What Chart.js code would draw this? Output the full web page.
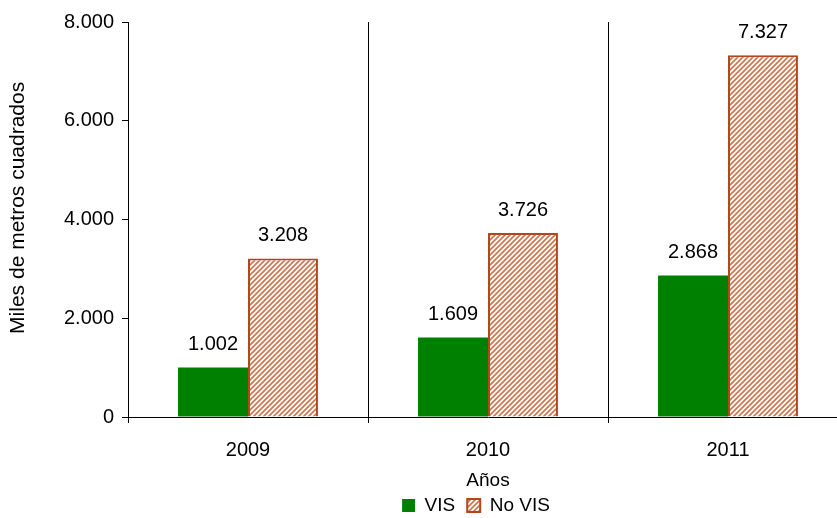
<!DOCTYPE html>
<html>
<head>
<meta charset="utf-8">
<script src="https://cdn.jsdelivr.net/npm/chart.js@4"></script>
<style>
  html, body { margin: 0; padding: 0; background: #fff; overflow: hidden; }
  #wrap { width: 850px; height: 518px; }
</style>
</head>
<body>
<div id="wrap"><canvas id="myChart" width="850" height="518"></canvas></div>
<script>
const years = ['2009', '2010', '2011'];
const visValues = [1002, 1609, 2868];
const noVisValues = [3208, 3726, 7327];
const yTicks = [0, 2000, 4000, 6000, 8000];

const ctx = document.getElementById('myChart').getContext('2d');
const FONT = "'Liberation Sans', Arial, sans-serif";

// trama diagonal para "No VIS"
function makeHatch() {
    const c = document.createElement('canvas');
    c.width = 5; c.height = 5;
    const g = c.getContext('2d');
    g.fillStyle = '#fff';
    g.fillRect(0, 0, 5, 5);
    g.strokeStyle = '#CF7650';
    g.lineWidth = 1.7;
    g.beginPath();
    g.moveTo(-1, 6); g.lineTo(6, -1);
    g.moveTo(-3.5, 3.5); g.lineTo(3.5, -3.5);
    g.moveTo(1.5, 8.5); g.lineTo(8.5, 1.5);
    g.stroke();
    return ctx.createPattern(c, 'repeat');
}
const hatch = makeHatch();

function fmt(v) {
    return v.toString().replace(/\B(?=(\d{3})+(?!\d))/g, '.');
}

const valueLabels = {
    id: 'valueLabels',
    afterDatasetsDraw(chart) {
        const c = chart.ctx;
        c.save();
        c.font = '20px ' + FONT;
        c.fillStyle = '#000';
        c.textAlign = 'center';
        c.textBaseline = 'middle';
        chart.data.datasets.forEach((ds, i) => {
            chart.getDatasetMeta(i).data.forEach((bar, j) => {
                c.fillText(fmt(ds.data[j]), bar.x, bar.y - 23);
            });
        });
        c.restore();
    }
};

// mover la leyenda (derecha y abajo)
const legendShift = {
    id: 'legendShift',
    afterLayout(chart) {
        const lg = chart.legend;
        lg.left += 52; lg.right += 52;
        lg.top += 7; lg.bottom += 7;
    }
};

const myChart = new Chart(ctx, {
    type: 'bar',
    data: {
        labels: years,
        datasets: [{
            label: 'VIS',
            data: visValues,
            backgroundColor: '#008000',
            borderColor: '#006400',
            borderWidth: 0,
            categoryPercentage: 0.583,
            barPercentage: 1.0
        }, {
            label: 'No VIS',
            data: noVisValues,
            backgroundColor: hatch,
            borderColor: '#B5461C',
            borderWidth: 2,
            categoryPercentage: 0.583,
            barPercentage: 1.0
        }]
    },
    options: {
        responsive: false,
        animation: false,
        layout: { padding: { top: 22, right: 2, left: 0, bottom: 0 } },
        scales: {
            x: {
                grid: {
                    display: true,
                    color: '#000',
                    lineWidth: 1,
                    drawTicks: true,
                    tickLength: 6,
                    offset: true
                },
                border: { display: true, color: '#000', width: 1 },
                ticks: { color: '#000', font: { family: FONT, size: 20 }, padding: 15 },
                title: {
                    display: true,
                    text: 'Años',
                    color: '#000',
                    font: { family: FONT, size: 19 },
                    padding: { top: 0, bottom: -15 }
                },
                afterFit(scale) { scale.height = 60; }
            },
            y: {
                min: 0,
                max: 8000,
                afterBuildTicks(scale) {
                    scale.ticks = yTicks.map(v => ({ value: v }));
                },
                grid: {
                    drawOnChartArea: false,
                    drawTicks: true,
                    tickLength: 6,
                    color: '#000'
                },
                border: { display: true, color: '#000', width: 1 },
                ticks: {
                    color: '#000',
                    font: { family: FONT, size: 20 },
                    padding: 8,
                    callback: v => fmt(v)
                },
                title: {
                    display: true,
                    // espacios iniciales para subir un poco el texto
                    text: '    Miles de metros cuadrados',
                    color: '#000',
                    font: { family: FONT, size: 21 },
                    padding: { top: 6, bottom: 0 }
                },
                afterFit(scale) { scale.width = 128; }
            }
        },
        plugins: {
            legend: {
                position: 'bottom',
                labels: {
                    color: '#000',
                    font: { family: FONT, size: 19 },
                    boxWidth: 13,
                    boxHeight: 13,
                    padding: 12
                }
            },
            tooltip: { enabled: false }
        }
    },
    plugins: [valueLabels, legendShift]
});
</script>
</body>
</html>
